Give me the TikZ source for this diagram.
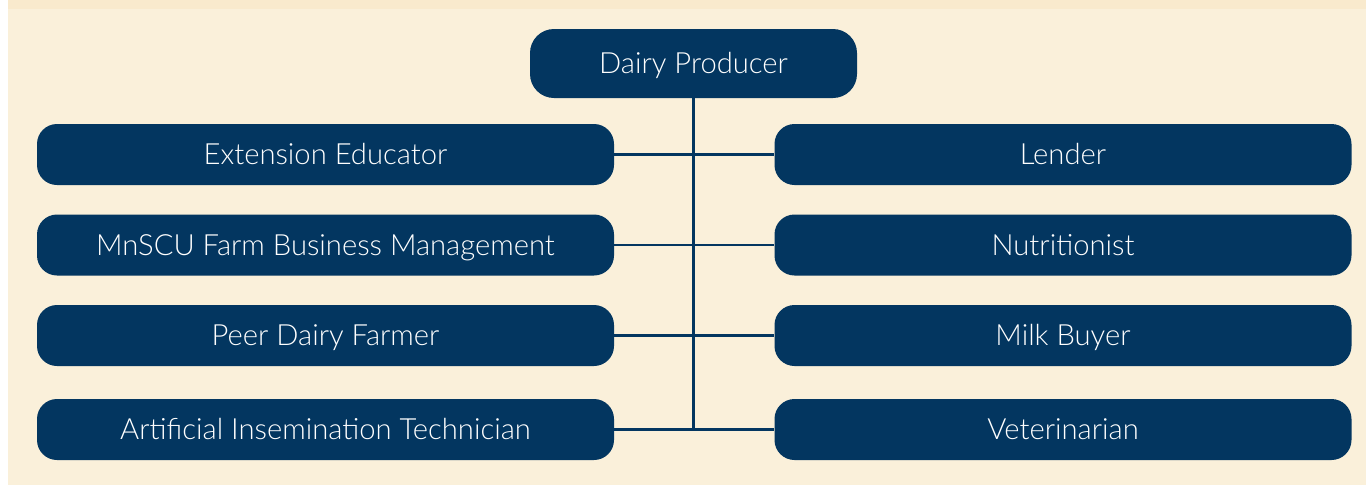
\documentclass[tikz,border=0pt]{standalone}
\usepackage{fontspec}
\setmainfont{Lato}[UprightFont=* Light]
\usepackage{tikz}
\definecolor{cream}{RGB}{250, 240, 218}
\definecolor{sand}{RGB}{249, 234, 205}
\definecolor{navy}{RGB}{3, 54, 96}
\tikzset{
  partner/.style={fill=navy, text=white, rounded corners=20pt, minimum width=577pt,
                  minimum height=61pt, inner sep=0pt, text height=20.5pt, text depth=0pt,
                  font=\fontsize{29.2}{33}\selectfont},
  producer/.style={partner, minimum width=327pt, minimum height=69pt, rounded corners=24pt},
  link/.style={navy, line width=2.6pt}
}
\begin{document}
\begin{tikzpicture}[x=1pt, y=-1pt]
  % background panel
  \useasboundingbox (0,0) rectangle (1366,485);
  \fill[white] (0,0) rectangle (1366,485);
  \fill[cream] (8,0) rectangle (1366,485);
  \fill[sand]  (8,0) rectangle (1366,9);

  % nodes
  \node[producer] (dairy)  at (693.5, 63.5) {Dairy Producer};
  \node[partner]  (ext)    at (325.5,154.5) {Extension Educator};
  \node[partner]  (mnscu)  at (325.5,245.0) {MnSCU Farm Business Management};
  \node[partner]  (peer)   at (325.5,335.5) {Peer Dairy Farmer};
  \node[partner]  (ai)     at (325.5,429.5) {Artificial Insemination Technician};
  \node[partner]  (lender) at (1063,154.5)  {Lender};
  \node[partner]  (nutri)  at (1063,245.0)  {Nutritionist};
  \node[partner]  (milk)   at (1063,335.5)  {Milk Buyer};
  \node[partner]  (vet)    at (1063,429.5)  {Veterinarian};
  \coordinate (base) at (dairy.south |- ai.east);

  % connectors
  \begin{scope}[on background layer/.try]
    \draw[link] (dairy.south) -- (base);
    \foreach \a/\b in {ext/lender, mnscu/nutri, peer/milk, ai/vet}
      \draw[link] (\a.east) -- (\b.west);
  \end{scope}
\end{tikzpicture}
\end{document}
